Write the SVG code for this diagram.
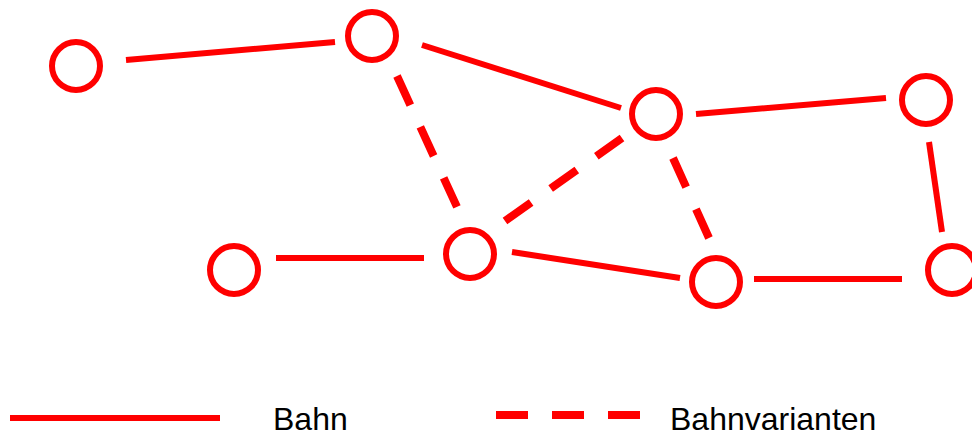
<svg xmlns="http://www.w3.org/2000/svg" width="972" height="432" viewBox="0 0 972 432">
<style>
.n{fill:none;stroke:#f00;stroke-width:6}
.c{fill:none;stroke:#f00;stroke-width:6}
.d{stroke-dasharray:32 24;stroke-width:8}
text{font-family:"Liberation Sans",Arial,sans-serif;font-size:32px;fill:#000}
</style>
<g id="connectors">
<path class="c" d="M126 60L335 42"/>
<path class="c" d="M422 45L621 108"/>
<path class="c" d="M696 114L886 98"/>
<path class="c" d="M929 142L942 232"/>
<path class="c" d="M276 258L424 258"/>
<path class="c" d="M512 252L680 278"/>
<path class="c" d="M754 279L902 279"/>
<path class="c d" d="M397 76L457 207"/>
<path class="c d" d="M505 221L622 138"/>
<path class="c d" d="M673 158L709 238"/>
</g>
<g id="n1"><circle class="n" cx="76" cy="66" r="24"/></g>
<g id="n2"><circle class="n" cx="372" cy="36" r="24"/></g>
<g id="n3"><circle class="n" cx="656" cy="114" r="24"/></g>
<g id="n4"><circle class="n" cx="926" cy="100" r="24"/></g>
<g id="n5"><circle class="n" cx="234" cy="270" r="24"/></g>
<g id="n6"><circle class="n" cx="470" cy="254" r="24"/></g>
<g id="n7"><circle class="n" cx="716" cy="282" r="24"/></g>
<g id="n8"><circle class="n" cx="952" cy="270" r="24"/></g>
<g id="legend">
<path class="c" d="M10 418H220"/>
<path class="c d" d="M496 415H640"/>
<text x="273" y="430">Bahn</text>
<text x="670" y="430">Bahnvarianten</text>
</g>
</svg>
